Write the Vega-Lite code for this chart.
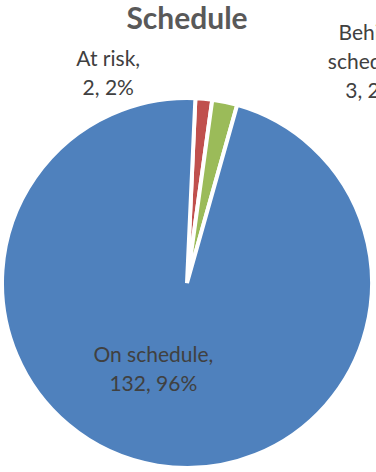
{
  "$schema": "https://vega.github.io/schema/vega-lite/v6.json",
  "autosize": "none",
  "width": 374,
  "height": 378,
  "padding": {"left": 0, "top": 94, "right": 2, "bottom": 0},
  "background": "white",
  "view": {"stroke": null},
  "title": {
    "text": "Schedule",
    "font": "Lato",
    "fontSize": 30,
    "fontWeight": "bold",
    "color": "#595959",
    "anchor": "middle",
    "frame": "group",
    "baseline": "alphabetic",
    "offset": -40
  },
  "data": {
    "values": [
      {"status": "At risk", "count": 2, "label": ["At risk,", "2, 2%"]},
      {"status": "Behind schedule", "count": 3, "label": ["Behind", "schedule,", "3, 2%"]},
      {"status": "On schedule", "count": 132, "label": ["On schedule,", "132, 96%"]}
    ]
  },
  "encoding": {
    "theta": {"field": "count", "type": "quantitative", "stack": true, "scale": {"range": [0.0454, 6.3286]}},
    "order": {"field": "status", "type": "nominal", "sort": "ascending"}
  },
  "layer": [
    {
      "mark": {"type": "arc", "outerRadius": 185, "stroke": "white", "strokeWidth": 4},
      "encoding": {
        "color": {
          "field": "status",
          "type": "nominal",
          "scale": {"domain": ["At risk", "Behind schedule", "On schedule"], "range": ["#C0504D", "#9BBB59", "#4F81BD"]},
          "legend": null
        }
      }
    },
    {
      "mark": {"type": "text", "radius": 92, "dx": -19, "dy": -17.5, "font": "Lato", "fontSize": 21, "lineHeight": 29, "color": "#404040", "align": "center", "baseline": "middle"},
      "encoding": {
        "detail": {"field": "status", "type": "nominal"},
        "text": {"condition": {"test": "datum.status === 'On schedule'", "field": "label"}, "value": ""}
      }
    },
    {
      "mark": {"type": "text", "radius": 200, "dx": -97, "dy": -23.5, "font": "Lato", "fontSize": 21, "lineHeight": 29, "color": "#404040", "align": "center", "baseline": "middle"},
      "encoding": {
        "detail": {"field": "status", "type": "nominal"},
        "text": {"condition": {"test": "datum.status === 'At risk'", "field": "label"}, "value": ""}
      }
    },
    {
      "mark": {"type": "text", "radius": 215, "dx": 140, "dy": -39, "font": "Lato", "fontSize": 21, "lineHeight": 29, "color": "#404040", "align": "center", "baseline": "middle"},
      "encoding": {
        "detail": {"field": "status", "type": "nominal"},
        "text": {"condition": {"test": "datum.status === 'Behind schedule'", "field": "label"}, "value": ""}
      }
    }
  ]
}
